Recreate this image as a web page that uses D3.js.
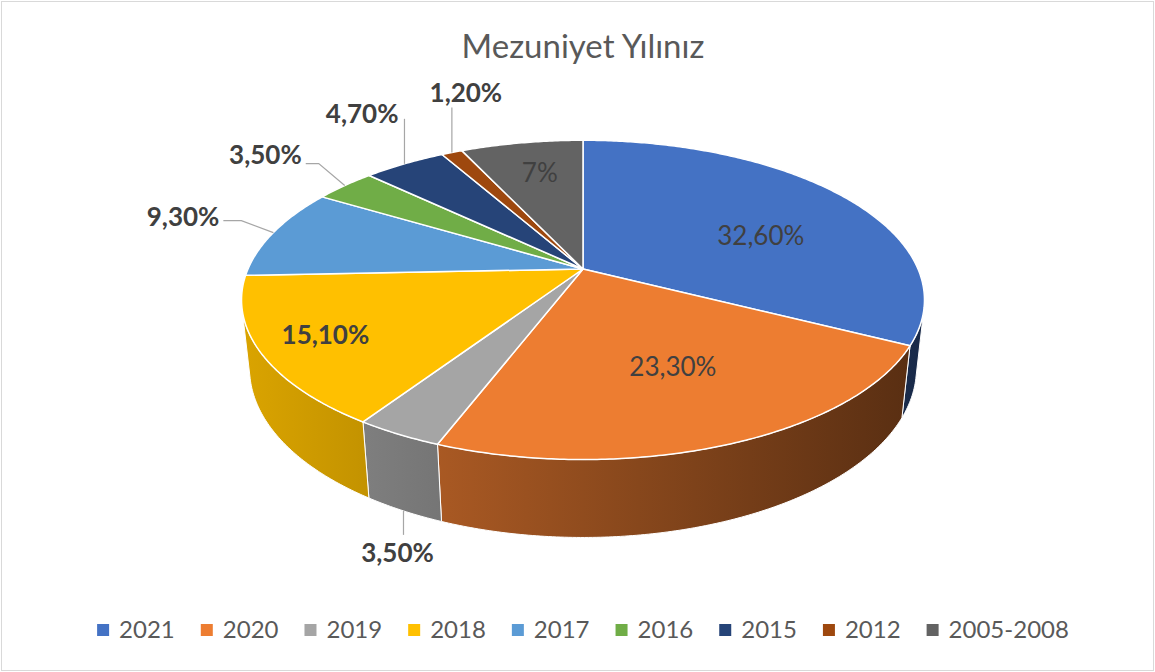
<!DOCTYPE html>
<html>
<head>
<meta charset="utf-8">
<script src="https://cdn.jsdelivr.net/npm/d3@7"></script>
<style>
  body { margin: 0; background: #fff; }
  svg { display: block; font-family: Lato, "Open Sans", sans-serif; }
</style>
</head>
<body>
<div id="chart"></div>
<script>
var categories = ['2021', '2020', '2019', '2018', '2017', '2016', '2015', '2012', '2005-2008'];
var values = [32.6, 23.3, 3.5, 15.1, 9.3, 3.5, 4.7, 1.2, 7];
var valueLabels = ['32,60%', '23,30%', '3,50%', '15,10%', '9,30%', '3,50%', '4,70%', '1,20%', '7%'];
var title = 'Mezuniyet Yılınız';

var colors = [
    '#4472C4', // blue
    '#ED7D31', // orange
    '#A5A5A5', // gray
    '#FFC000', // gold
    '#5B9BD5', // light blue
    '#70AD47', // green
    '#264478', // navy
    '#9E480E', // brown
    '#636363'  // dark gray
];

// where each value label sits (offsets in px from its slice anchor)
var labelPlace = [
    {inside: true, r: 0.62, dx: 11, dy: 14},
    {inside: true, r: 0.62, dx: 6, dy: -2},
    {front: true, elbow: [0, 24], text: [-6, 42], anchor: 'middle'},
    {inside: true, r: 0.8, dx: -5, dy: 0, bold: true},
    {elbow: [-32, -12], end: [-50, -12], text: [-54, -16], anchor: 'end'},
    {elbow: [-26, -22], end: [-39, -22], text: [-43, -31], anchor: 'end'},
    {elbow: [0, -45], text: [-6, -50], anchor: 'end'},
    {elbow: [0, -45], text: [14, -60], anchor: 'middle'},
    {inside: true, r: 0.72, dx: 3, dy: -1}
];

var W = 1155, H = 672;

// 3d view of the pie (unit radius disc, seen from above-front)
var cx = 583, cy = 269;
var tilt = 27.3 * Math.PI / 180,
    camDist = 4.59,
    focal = 335 * camDist,
    depth = 0.232;

function proj(theta, r, h){
    var dist = camDist + r * Math.cos(theta) * Math.cos(tilt) - h * Math.sin(tilt);
    var yc = h * Math.cos(tilt) + r * Math.cos(theta) * Math.sin(tilt);
    return [cx + focal * r * Math.sin(theta) / dist, cy - focal * yc / dist];
}

function arcPoints(a0, a1, h){
    var n = Math.max(2, Math.ceil((a1 - a0) / 0.01));
    return d3.range(n + 1).map(function(i){ return proj(a0 + (a1 - a0) * i / n, 1, h); });
}

var svg = d3.select('#chart').append('svg')
    .attr('width', W)
    .attr('height', H);

svg.append('rect')
    .attr('x', 1.5).attr('y', 1.5)
    .attr('width', W - 3).attr('height', H - 3)
    .attr('fill', '#fff')
    .attr('stroke', '#D9D9D9');

svg.append('text')
    .attr('x', cx).attr('y', 46)
    .attr('dy', '0.35em')
    .attr('text-anchor', 'middle')
    .attr('font-size', 33)
    .attr('fill', '#595959')
    .text(title);

var pie = d3.pie().sort(null).startAngle(0).endAngle(2 * Math.PI);
var slices = pie(values);

// side shading, darker to the right
var xLeft = proj(-Math.PI / 2, 1, 0)[0], xRight = proj(Math.PI / 2, 1, 0)[0];
var defs = svg.append('defs');
colors.forEach(function(c, i){
    var g = defs.append('linearGradient')
        .attr('id', 'side' + i)
        .attr('gradientUnits', 'userSpaceOnUse')
        .attr('x1', xLeft).attr('x2', xRight)
        .attr('y1', 0).attr('y2', 0);
    [[0, 0.85], [1, 0.37]].forEach(function(s){
        var col = d3.rgb(c);
        g.append('stop')
            .attr('offset', s[0])
            .attr('stop-color', d3.rgb(col.r * s[1], col.g * s[1], col.b * s[1]).formatHex());
    });
});

// visible part of the outer wall
var half = Math.acos(1 / (camDist * Math.cos(tilt)));
var vis0 = Math.PI - half, vis1 = Math.PI + half;

var line = d3.line();

var sides = svg.append('g');
slices.forEach(function(s, i){
    var t0 = Math.max(s.startAngle, vis0), t1 = Math.min(s.endAngle, vis1);
    if(t0 >= t1) return;
    var pts = arcPoints(t0, t1, 0).concat(arcPoints(t0, t1, -depth).reverse());
    sides.append('path')
        .attr('d', line(pts) + 'Z')
        .attr('fill', 'url(#side' + i + ')')
        .attr('stroke', '#fff')
        .attr('stroke-width', 1)
        .attr('stroke-linejoin', 'round');
});

var tops = svg.append('g');
slices.forEach(function(s, i){
    var pts = [[cx, cy]].concat(arcPoints(s.startAngle, s.endAngle, 0));
    tops.append('path')
        .attr('d', line(pts) + 'Z')
        .attr('fill', colors[i])
        .attr('stroke', '#fff')
        .attr('stroke-width', 1.5)
        .attr('stroke-linejoin', 'round');
});

var labels = svg.append('g')
    .attr('font-size', 26)
    .attr('fill', '#404040');

slices.forEach(function(s, i){
    var mid = (s.startAngle + s.endAngle) / 2;
    var p = labelPlace[i];
    if(p.inside){
        var c = proj(mid, p.r, 0);
        labels.append('text')
            .attr('x', c[0] + p.dx).attr('y', c[1] + p.dy)
            .attr('dy', '0.35em')
            .attr('text-anchor', 'middle')
            .attr('font-weight', p.bold ? 'bold' : 'normal')
            .text(valueLabels[i]);
        return;
    }
    var a = proj(mid, 1, p.front ? -depth : 0);
    var path = [a, [a[0] + p.elbow[0], a[1] + p.elbow[1]]];
    if(p.end) path.push([a[0] + p.end[0], a[1] + p.end[1]]);
    labels.append('path')
        .attr('d', line(path))
        .attr('fill', 'none')
        .attr('stroke', '#A6A6A6')
        .attr('stroke-width', 1.2);
    labels.append('text')
        .attr('x', a[0] + p.text[0]).attr('y', a[1] + p.text[1])
        .attr('dy', '0.35em')
        .attr('text-anchor', p.anchor)
        .attr('font-weight', 'bold')
        .text(valueLabels[i]);
});

// legend, centred under the pie
var legend = svg.append('g')
    .attr('font-size', 24)
    .attr('fill', '#595959');
var lx = 0;
categories.forEach(function(name, i){
    var item = legend.append('g').attr('transform', 'translate(' + lx + ',0)');
    item.append('rect')
        .attr('x', 0).attr('y', -6)
        .attr('width', 12).attr('height', 12)
        .attr('fill', colors[i]);
    var t = item.append('text')
        .attr('x', 22).attr('y', 0)
        .attr('dy', '0.35em')
        .text(name);
    lx += 22 + t.node().getComputedTextLength() + 26;
});
lx -= 26;
legend.attr('transform', 'translate(' + (cx - lx / 2) + ',630)');
</script>
</body>
</html>
